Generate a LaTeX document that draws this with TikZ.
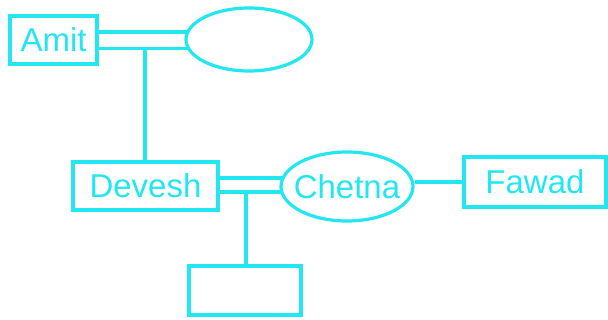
\documentclass[tikz,border=0pt]{standalone}
\usepackage{fontspec}
\setmainfont{Liberation Sans}
\usetikzlibrary{shapes.geometric}
\definecolor{cy}{RGB}{34,230,240}
\tikzset{
  ln/.style={draw=cy, line width=3.2pt},
  txt/.style={text=cy, font=\fontsize{33}{33}\selectfont},
  person/.style={ln, rectangle, inner sep=0pt, txt},
  spouse/.style={ln, ellipse, inner sep=0pt},
}
\begin{document}
\begin{tikzpicture}[x=1pt,y=-1pt]
\useasboundingbox (0,0) rectangle (608,320);
\node[person, minimum width=87pt, minimum height=48pt] (amit) at (53.5,40) {Amit};
\node[spouse, minimum width=126pt, minimum height=63pt] (wife) at (249,39.5) {};
\node[person, minimum width=145pt, minimum height=48pt] (devesh) at (145.5,186) {Devesh};
\node[spouse, minimum width=132pt, minimum height=69pt, label={[txt]center:Chetna}] (chetna) at (347,186.5) {};
\node[person, minimum width=142pt, minimum height=50pt] (fawad) at (535,182) {Fawad};
\node[person, minimum width=112pt, minimum height=49pt] (child) at (245,290.5) {};
% marriage Amit
\draw[ln] (amit.east |- 0,32) -- (188,32);
\draw[ln] (amit.east |- 0,48.5) -- (188,48.5);
\coordinate (j1) at (145,48.5);
\draw[ln] (j1) -- (j1 |- devesh.north);
% marriage Devesh
\draw[ln] (devesh.east |- 0,178) -- (283,178);
\draw[ln] (devesh.east |- 0,192) -- (283,192);
\coordinate (j2) at (246,192);
\draw[ln] (j2) -- (j2 |- child.north);
% Chetna - Fawad
\draw[ln] (chetna.east |- 0,182) -- (fawad.west |- 0,182);
\end{tikzpicture}
\end{document}
